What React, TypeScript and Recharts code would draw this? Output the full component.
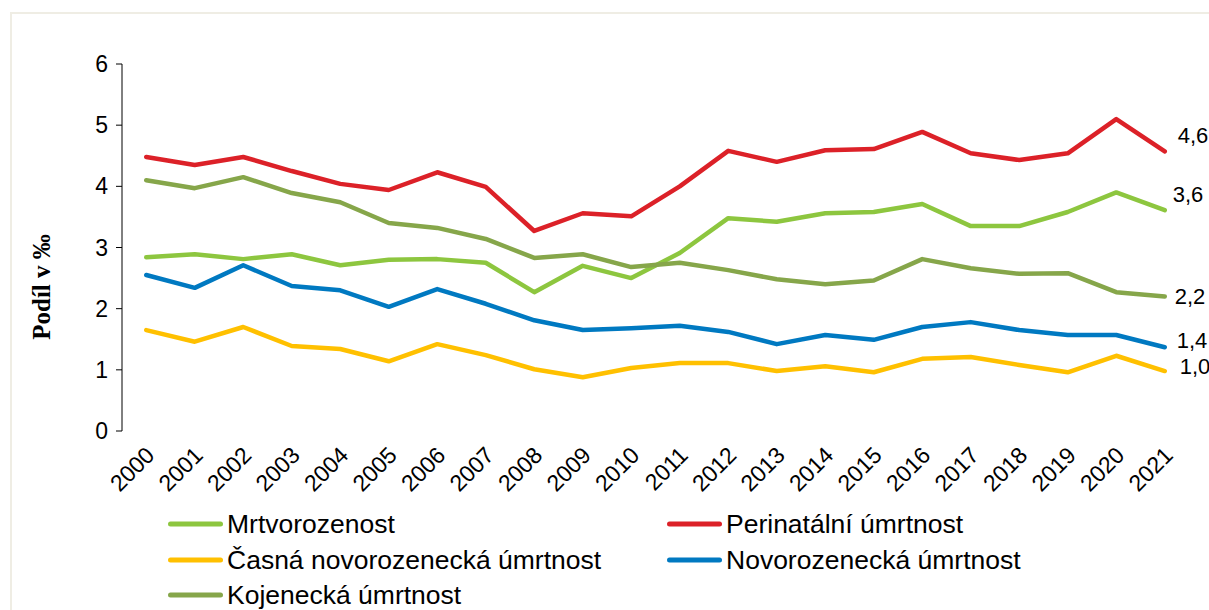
import { Line, LineChart, XAxis, YAxis } from 'recharts';

const years = [
  '2000', '2001', '2002', '2003', '2004', '2005', '2006', '2007', '2008', '2009', '2010',
  '2011', '2012', '2013', '2014', '2015', '2016', '2017', '2018', '2019', '2020', '2021',
];

const mrtvorozenost = [2.84, 2.89, 2.81, 2.89, 2.71, 2.8, 2.81, 2.75, 2.27, 2.7, 2.5, 2.91, 3.48, 3.42, 3.56, 3.58, 3.71, 3.35, 3.35, 3.58, 3.9, 3.61];
const perinatalni = [4.48, 4.35, 4.48, 4.25, 4.04, 3.94, 4.23, 3.99, 3.27, 3.56, 3.51, 4.0, 4.58, 4.4, 4.59, 4.61, 4.89, 4.54, 4.43, 4.54, 5.1, 4.57];
const casna = [1.65, 1.46, 1.7, 1.39, 1.34, 1.14, 1.42, 1.24, 1.01, 0.88, 1.03, 1.11, 1.11, 0.98, 1.06, 0.96, 1.18, 1.21, 1.08, 0.96, 1.23, 0.98];
const novorozenecka = [2.55, 2.34, 2.71, 2.37, 2.3, 2.03, 2.32, 2.08, 1.81, 1.65, 1.68, 1.72, 1.62, 1.42, 1.57, 1.49, 1.7, 1.78, 1.65, 1.57, 1.57, 1.37];
const kojenecka = [4.1, 3.97, 4.15, 3.89, 3.74, 3.4, 3.32, 3.14, 2.83, 2.89, 2.68, 2.75, 2.63, 2.48, 2.4, 2.46, 2.81, 2.66, 2.57, 2.58, 2.27, 2.2];

const yTicks = [0, 1, 2, 3, 4, 5, 6];

const series = [
  { key: 'mrtvo', name: 'Mrtvorozenost', color: '#8dc63f', values: mrtvorozenost, dx: 8, dy: -16 },
  { key: 'peri', name: 'Perinatální úmrtnost', color: '#dc2128', values: perinatalni, dx: 13, dy: -16 },
  { key: 'casna', name: 'Časná novorozenecká úmrtnost', color: '#ffc000', values: casna, dx: 15, dy: -5 },
  { key: 'novo', name: 'Novorozenecká úmrtnost', color: '#0079c1', values: novorozenecka, dx: 12, dy: -7 },
  { key: 'koje', name: 'Kojenecká úmrtnost', color: '#86a64a', values: kojenecka, dx: 10, dy: 0 },
];

const data = years.map((year, i) => {
  const row: Record<string, number | string> = { idx: i, year };
  series.forEach((s) => {
    row[s.key] = s.values[i];
  });
  return row;
});

const boundaries = years.map((_, i) => i - 0.5).concat([years.length - 0.5]);
const centers = years.map((_, i) => i);
const last = years.length - 1;

const font = '"Liberation Sans", Arial, sans-serif';

const YearTick = (props: any) => {
  const { x, y, payload } = props;
  return (
    <text
      x={x + 4}
      y={y + 12}
      transform={`rotate(-45, ${x + 4}, ${y + 12})`}
      textAnchor="end"
      dominantBaseline="central"
      fontSize={23}
      fontFamily={font}
      fill="#000"
    >
      {years[payload.value]}
    </text>
  );
};

const ValueTick = (props: any) => {
  const { x, y, payload } = props;
  return (
    <text x={x - 6} y={y} textAnchor="end" dominantBaseline="central" fontSize={23} fontFamily={font} fill="#000">
      {payload.value}
    </text>
  );
};

const endLabel = (dx: number, dy: number) => (props: any) => {
  const { x, y, index, value } = props;
  if (index !== last) return null;
  return (
    <text
      x={x + dx}
      y={y + dy}
      dominantBaseline="central"
      fontSize={22}
      fontFamily={font}
      fill="#000"
    >
      {Number(value).toFixed(1).replace('.', ',')}
    </text>
  );
};

const legendPos = [
  { left: 168, top: 524 },
  { left: 667, top: 524 },
  { left: 168, top: 560 },
  { left: 667, top: 560 },
  { left: 168, top: 595 },
];

export default function App() {
  return (
    <div style={{ position: 'fixed', left: 0, top: 0, width: 1209, height: 610, background: '#fff', overflow: 'hidden' }}>
      <div
        style={{
          position: 'absolute',
          left: 10,
          top: 12,
          width: 1240,
          height: 640,
          border: '2px solid #efede4',
          boxSizing: 'border-box',
        }}
      />
      <LineChart width={1209} height={610} data={data} margin={{ top: 64, right: 20, bottom: 109, left: 62 }}>
        <XAxis
          xAxisId="ticks"
          dataKey="idx"
          type="number"
          domain={[-0.5, years.length - 0.5]}
          ticks={boundaries}
          height={0}
          tickSize={6}
          tickLine={{ stroke: '#000' }}
          axisLine={{ stroke: '#000' }}
          tick={() => <g />}
          interval={0}
        />
        <XAxis
          xAxisId="labels"
          dataKey="idx"
          type="number"
          domain={[-0.5, years.length - 0.5]}
          ticks={centers}
          height={70}
          axisLine={false}
          tickLine={false}
          tick={<YearTick />}
          interval={0}
        />
        <YAxis
          domain={[0, 6]}
          ticks={yTicks}
          width={60}
          tickSize={6}
          tickLine={{ stroke: '#000' }}
          axisLine={{ stroke: '#000' }}
          tick={<ValueTick />}
          interval={0}
        />
        {series.map((s) => (
          <Line
            key={s.key}
            xAxisId="ticks"
            type="linear"
            dataKey={s.key}
            name={s.name}
            stroke={s.color}
            strokeWidth={4.5}
            strokeLinecap="round"
            strokeLinejoin="round"
            dot={false}
            activeDot={false}
            isAnimationActive={false}
            label={endLabel(s.dx, s.dy)}
          />
        ))}
      </LineChart>
      <div
        style={{
          position: 'absolute',
          left: 42,
          top: 287,
          transform: 'translate(-50%, -50%) rotate(-90deg)',
          fontFamily: '"Liberation Serif", "Times New Roman", serif',
          fontWeight: 'bold',
          fontSize: 25,
          whiteSpace: 'nowrap',
          color: '#000',
        }}
      >
        Podíl v ‰
      </div>
      {series.map((s, i) => (
        <div
          key={s.key}
          style={{
            position: 'absolute',
            left: legendPos[i].left,
            top: legendPos[i].top,
            transform: 'translateY(-50%)',
            display: 'flex',
            alignItems: 'center',
            fontFamily: font,
            fontSize: 26.5,
            whiteSpace: 'nowrap',
            color: '#000',
          }}
        >
          <span style={{ display: 'inline-block', width: 55, height: 5, borderRadius: 3, background: s.color, marginRight: 4 }} />
          <span>{s.name}</span>
        </div>
      ))}
    </div>
  );
}
